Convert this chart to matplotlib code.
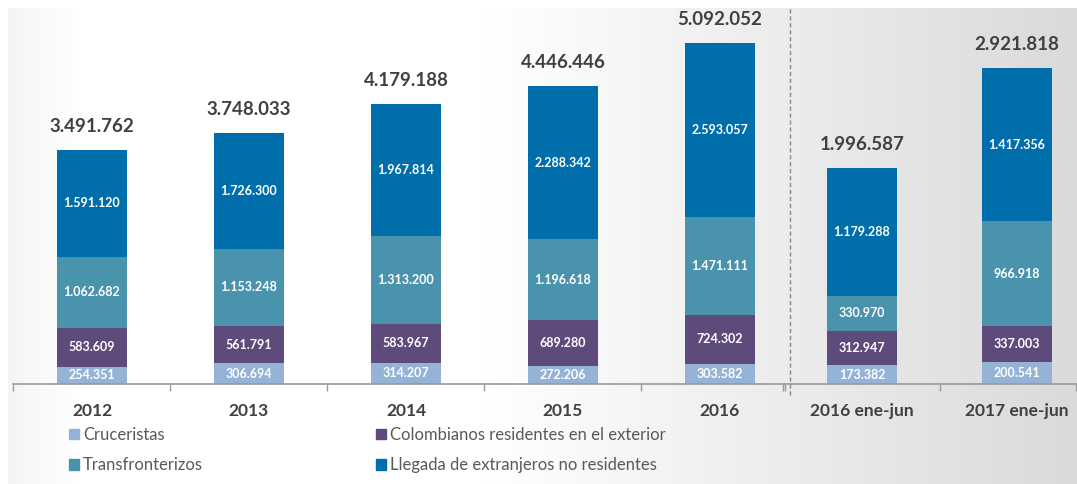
import matplotlib.pyplot as plt
import numpy as np
from matplotlib.patches import Patch
from matplotlib.lines import Line2D

plt.rcParams['font.family'] = ['Lato', 'DejaVu Sans']

# datos anuales
years = ['2012', '2013', '2014', '2015', '2016']
cruceristas = [254351, 306694, 314207, 272206, 303582]
colombianos = [583609, 561791, 583967, 689280, 724302]
transfronterizos = [1062682, 1153248, 1313200, 1196618, 1471111]
llegada = [1591120, 1726300, 1967814, 2288342, 2593057]

# datos semestrales
periods = ['2016 ene-jun', '2017 ene-jun']
cruceristas_h = [173382, 200541]
colombianos_h = [312947, 337003]
transfronterizos_h = [330970, 966918]
llegada_h = [1179288, 1417356]

labels = ['Cruceristas', 'Colombianos residentes en el exterior',
          'Transfronterizos', 'Llegada de extranjeros no residentes']
colors = ['#95b3d7', '#5f4a7c', '#4a93ad', '#006eaa']

W, H = 1077, 484
fig = plt.figure(figsize=(W / 100, H / 100), dpi=100)

# fondo con degradado
bg = fig.add_axes([0, 0, 1, 1], zorder=-10)
xs = np.arange(W)
col = np.ones(W)
col[xs < 80] = 0.96 + 0.04 * (xs[xs < 80] - 8) / 72
col[xs > 480] = 1 - 0.145 * (xs[xs > 480] - 480) / (W - 480)
img = np.tile(col, (H, 1))
img[:8, :] = 1
img[:, :8] = 1
bg.imshow(np.dstack([img, img, img]), aspect='auto', extent=[0, 1, 0, 1],
          vmin=0, vmax=1)
bg.axis('off')

base_y = 100 / H
ax_h = 384 / H
ax1 = fig.add_axes([13 / W, base_y, (784 - 13) / W, ax_h])
ax2 = fig.add_axes([784.5 / W, base_y, (W - 784.5) / W, ax_h])


def fmt(v):
    return f"{v:,}".replace(',', '.')


def draw(ax, cats, series, ymax, xlim):
    x = np.arange(len(cats))
    bottom = np.zeros(len(cats))
    for vals, c in zip(series, colors):
        ax.bar(x, vals, 0.45, bottom=bottom, color=c, zorder=2)
        for xi, b, v in zip(x, bottom, vals):
            ax.text(xi, b + v / 2, fmt(v), ha='center', va='center',
                    color='white', fontsize=9, fontweight='bold', zorder=3)
        bottom += np.array(vals)
    for xi, t in zip(x, bottom):
        ax.annotate(fmt(int(t)), (xi, t), xytext=(0, 17), textcoords='offset points',
                    ha='center', va='center', fontsize=13.5, fontweight='bold',
                    color='#404040')
    ax.patch.set_alpha(0)
    for s in ['top', 'right', 'left']:
        ax.spines[s].set_visible(False)
    ax.spines['bottom'].set_color('#9a9a9a')
    ax.spines['bottom'].set_linewidth(1.2)
    ax.set_yticks([])
    ax.set_xticks(x)
    ax.set_xticklabels(cats, fontsize=12.5, fontweight='bold', color='#404040')
    ax.tick_params(axis='x', which='major', length=0, pad=14)
    edges = [e for e in np.arange(len(cats) + 1) - 0.5 if xlim[0] - 0.01 <= e <= xlim[1]]
    if xlim[1] < len(cats) - 0.5:
        edges.append(xlim[1] - 0.005)
    ax.set_xticks(edges, minor=True)
    ax.tick_params(axis='x', which='minor', length=5, color='#9a9a9a', width=1)
    ax.set_ylim(0, ymax)
    ax.set_xlim(*xlim)


draw(ax1, years, [cruceristas, colombianos, transfronterizos, llegada],
     384 / 66.97 * 1e6, (-0.503, 4.408))
draw(ax2, periods, [cruceristas_h, colombianos_h, transfronterizos_h, llegada_h],
     384 / 108.17 * 1e6, (-0.5, 1.387))

# separador vertical
fig.add_artist(Line2D([790 / W, 790 / W], [(H - 395) / H, (H - 8) / H],
                      color='#8a8a8a', lw=1, ls=(0, (3, 2))))

handles = [Patch(color=c) for c in colors]
leg_kw = dict(frameon=False, loc='upper left', fontsize=12, handlelength=0.6,
              handleheight=0.6, handletextpad=0.25, labelspacing=0.85,
              borderpad=0, borderaxespad=0, labelcolor='#595959')
fig.legend([handles[0], handles[2]], [labels[0], labels[2]],
           bbox_to_anchor=(69 / W, (H - 427) / H), **leg_kw)
fig.legend([handles[1], handles[3]], [labels[1], labels[3]],
           bbox_to_anchor=(376 / W, (H - 427) / H), **leg_kw)

fig.savefig('out.png', dpi=100)
